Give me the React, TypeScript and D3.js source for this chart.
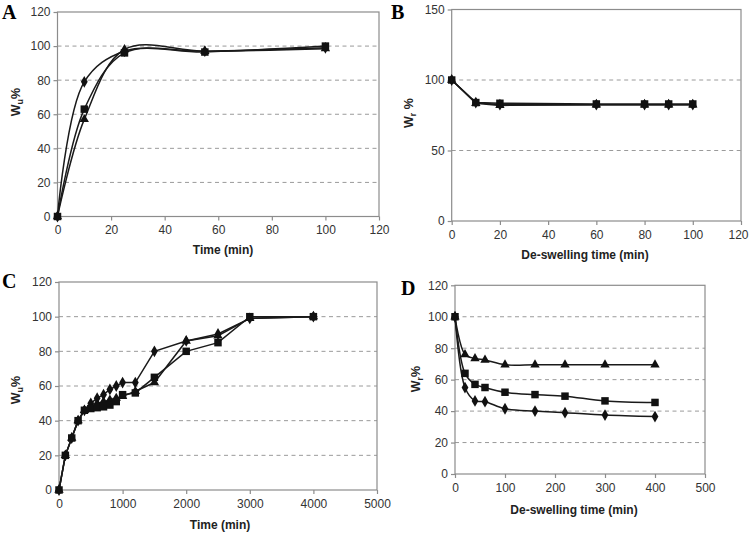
import * as d3 from "d3";
import React, { useEffect, useRef } from "react";

// Panel A: swelling kinetics (min)
const aTime = [0, 10, 25, 55, 100];
const aDiamond = [0, 79, 97, 97, 99];
const aTriangle = [0, 57, 98, 97, 98.5];
const aSquare = [0, 63, 96, 96.5, 100];

// Panel B: de-swelling (min)
const bTime = [0, 10, 20, 60, 80, 90, 100];
const bDiamond = [100, 84, 82.5, 82.5, 82.5, 82.5, 82.5];
const bTriangle = [100, 83.5, 82, 82.5, 82.5, 82.5, 82.5];
const bSquare = [100, 84, 83.5, 83, 83, 83, 83];

// Panel C: swelling kinetics, long run (min)
const cTime = [0, 100, 200, 300, 400, 500, 600, 700, 800, 900, 1000, 1200, 1500, 2000, 2500, 3000, 4000];
const cDiamond = [0, 20, 30, 40, 46, 50, 53, 55, 58, 60, 62, 62, 80, 86, 90, 99, 100];
const cTriangle = [0, 20, 30, 40, 46, 48, 50, 51, 52, 53, 54, 57, 62, 86, 89, 99, 100];
const cSquare = [0, 20, 30, 40, 46, 47, 47.5, 48, 49, 51, 55, 56, 65, 80, 85, 100, 100];

// Panel D: de-swelling, long run (min)
const dTime = [0, 20, 40, 60, 100, 160, 220, 300, 400];
const dTriangle = [100, 76, 73.5, 72.5, 69.5, 69.5, 69.5, 69.5, 69.5];
const dSquare = [100, 64, 57, 55, 52, 50.5, 49.5, 46.5, 45.5];
const dDiamond = [100, 55, 46.5, 46, 41.5, 40, 39, 37.5, 36.5];

const ticksA = [0, 20, 40, 60, 80, 100, 120];
const ticksB = [0, 50, 100, 150];
const ticksC = [0, 1000, 2000, 3000, 4000, 5000];
const ticksD = [0, 100, 200, 300, 400, 500];

type Series = { shape: "diamond" | "triangle" | "square"; values: number[] };

interface PanelSpec {
  letter: string;
  letterPos: [number, number];
  x: [number, number];
  y: [number, number]; // bottom, top
  xDomain: [number, number];
  yDomain: [number, number];
  xTicks: number[];
  yTicks: number[];
  time: number[];
  series: Series[];
  smooth: boolean;
  xTitle: string;
  xTitlePos: [number, number];
  sub: string;
  subSpace: boolean;
  yTitlePos: [number, number];
  lastTickShift: number;
}

const panels: PanelSpec[] = [
  {
    letter: "A",
    letterPos: [2, 19],
    x: [57.5, 379],
    y: [216.5, 12],
    xDomain: [0, 120],
    yDomain: [0, 120],
    xTicks: ticksA,
    yTicks: ticksA,
    time: aTime,
    series: [
      { shape: "diamond", values: aDiamond },
      { shape: "triangle", values: aTriangle },
      { shape: "square", values: aSquare },
    ],
    smooth: true,
    xTitle: "Time (min)",
    xTitlePos: [223, 254],
    sub: "u",
    subSpace: false,
    yTitlePos: [20, 102],
    lastTickShift: 0,
  },
  {
    letter: "B",
    letterPos: [391, 19],
    x: [451.7, 741],
    y: [221, 9.5],
    xDomain: [0, 120],
    yDomain: [0, 150],
    xTicks: ticksA,
    yTicks: ticksB,
    time: bTime,
    series: [
      { shape: "diamond", values: bDiamond },
      { shape: "triangle", values: bTriangle },
      { shape: "square", values: bSquare },
    ],
    smooth: false,
    xTitle: "De-swelling time (min)",
    xTitlePos: [585, 259],
    sub: "r",
    subSpace: true,
    yTitlePos: [413, 113],
    lastTickShift: -3,
  },
  {
    letter: "C",
    letterPos: [2, 288],
    x: [59, 377],
    y: [490, 282],
    xDomain: [0, 5000],
    yDomain: [0, 120],
    xTicks: ticksC,
    yTicks: ticksA,
    time: cTime,
    series: [
      { shape: "diamond", values: cDiamond },
      { shape: "triangle", values: cTriangle },
      { shape: "square", values: cSquare },
    ],
    smooth: false,
    xTitle: "Time (min)",
    xTitlePos: [220, 529],
    sub: "u",
    subSpace: false,
    yTitlePos: [20, 390],
    lastTickShift: 0,
  },
  {
    letter: "D",
    letterPos: [401, 295],
    x: [455, 705],
    y: [474, 285.3],
    xDomain: [0, 500],
    yDomain: [0, 120],
    xTicks: ticksD,
    yTicks: ticksA,
    time: dTime,
    series: [
      { shape: "diamond", values: dDiamond },
      { shape: "triangle", values: dTriangle },
      { shape: "square", values: dSquare },
    ],
    smooth: true,
    xTitle: "De-swelling time (min)",
    xTitlePos: [574, 514],
    sub: "r",
    subSpace: false,
    yTitlePos: [420, 379],
    lastTickShift: 0,
  },
];

const symbolFor = {
  diamond: d3.symbol().type(d3.symbolDiamond).size(40),
  triangle: d3.symbol().type(d3.symbolTriangle).size(38),
  square: d3.symbol().type(d3.symbolSquare).size(56),
};

const App: React.FC = () => {
  const svgRef = useRef<SVGSVGElement | null>(null);

  useEffect(() => {
    if (!svgRef.current) return;
    const svg = d3.select(svgRef.current);
    svg.selectAll("*").remove();

    panels.forEach((p) => {
      const x = d3.scaleLinear().domain(p.xDomain).range(p.x);
      const y = d3.scaleLinear().domain(p.yDomain).range(p.y);
      const g = svg.append("g");

      // gridlines
      g.append("g")
        .selectAll("line")
        .data(p.yTicks.slice(1, -1))
        .join("line")
        .attr("x1", p.x[0])
        .attr("x2", p.x[1])
        .attr("y1", (d) => y(d))
        .attr("y2", (d) => y(d))
        .attr("stroke", "#9a9a9a")
        .attr("stroke-width", 1)
        .attr("stroke-dasharray", "4,3.5");

      // frame
      g.append("rect")
        .attr("x", p.x[0])
        .attr("y", p.y[1])
        .attr("width", p.x[1] - p.x[0])
        .attr("height", p.y[0] - p.y[1])
        .attr("fill", "none")
        .attr("stroke", "#8c8c8c")
        .attr("stroke-width", 1.2);

      // axes
      const xAxis = d3.axisBottom(x).tickValues(p.xTicks).tickSize(4).tickPadding(5).tickFormat(d3.format("d"));
      const yAxis = d3.axisLeft(y).tickValues(p.yTicks).tickSize(4).tickPadding(3).tickFormat(d3.format("d"));
      const xg = g
        .append("g")
        .attr("transform", `translate(0,${p.y[0]})`)
        .call(xAxis)
        .call((a) => a.select(".domain").remove());
      g.append("g")
        .attr("transform", `translate(${p.x[0]},0)`)
        .call(yAxis)
        .call((a) => a.select(".domain").remove());
      g.selectAll(".tick line").attr("stroke", "#8c8c8c").attr("stroke-width", 1.2);
      g.selectAll(".tick text")
        .attr("fill", "#333")
        .style("font-family", "Liberation Sans, Arial, sans-serif")
        .style("font-size", "12px");
      xg.selectAll(".tick:last-of-type text").attr("dx", p.lastTickShift);

      // lines
      const line = d3
        .line<number>()
        .x((_, i) => x(p.time[i]))
        .y((d) => y(d))
        .curve(p.smooth ? d3.curveCatmullRom.alpha(0.5) : d3.curveLinear);

      p.series.forEach((s) => {
        g.append("path")
          .attr("d", line(s.values))
          .attr("fill", "none")
          .attr("stroke", "#1a1a1a")
          .attr("stroke-width", 1.5);
      });

      p.series.forEach((s) => {
        g.append("g")
          .selectAll("path")
          .data(s.values)
          .join("path")
          .attr("transform", (d, i) => `translate(${x(p.time[i])},${y(d)})`)
          .attr("d", symbolFor[s.shape]()!)
          .attr("fill", "#111");
      });

      // titles
      g.append("text")
        .attr("x", p.xTitlePos[0])
        .attr("y", p.xTitlePos[1])
        .attr("text-anchor", "middle")
        .style("font-family", "Liberation Sans, Arial, sans-serif")
        .style("font-weight", "bold")
        .style("font-size", "12px")
        .attr("fill", "#222")
        .text(p.xTitle);

      const yt = g
        .append("text")
        .attr("transform", `translate(${p.yTitlePos[0]},${p.yTitlePos[1]}) rotate(-90)`)
        .attr("text-anchor", "middle")
        .style("font-family", "Liberation Sans, Arial, sans-serif")
        .style("font-weight", "bold")
        .style("font-size", "12.5px")
        .attr("fill", "#222");
      yt.append("tspan").text("W");
      yt.append("tspan").attr("dy", 3).style("font-size", "9px").text(p.sub);
      yt.append("tspan").attr("dy", -3).text(p.subSpace ? " %" : "%");

      g.append("text")
        .attr("x", p.letterPos[0])
        .attr("y", p.letterPos[1])
        .style("font-family", "Liberation Serif, Times New Roman, serif")
        .style("font-weight", "bold")
        .style("font-size", "20px")
        .attr("fill", "#000")
        .text(p.letter);
    });
  }, []);

  return (
    <svg
      ref={svgRef}
      width={750}
      height={534}
      style={{ position: "absolute", left: 0, top: 0, background: "#fff" }}
    />
  );
};

export default App;
